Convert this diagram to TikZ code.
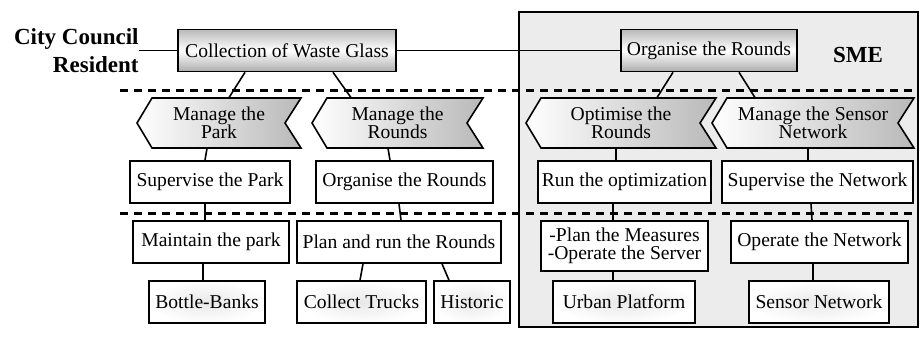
\documentclass[tikz,border=0pt]{standalone}
\usepackage{fontspec}
\setmainfont{Liberation Serif}
\usetikzlibrary{calc}

\tikzset{
  box/.style={draw, line width=0.8pt, fill=white, inner sep=0pt, minimum height=21pt},
  topbox/.style={box, top color=gray!55, bottom color=gray!65, middle color=white},
  resbox/.style={box, inner color=gray!18, outer color=white},
  chev/.style={draw, line width=0.8pt, left color=white, right color=gray!55},
  chevtext/.style={align=center, inner sep=0pt, minimum height=25pt},
  link/.style={line width=0.8pt},
  layer/.style={line width=1.5pt, dash pattern=on 4pt off 3pt},
  actor/.style={font=\fontsize{11.5}{14}\selectfont\bfseries, inner sep=0pt}
}

\begin{document}
\begin{tikzpicture}[x=0.5pt, y=-0.5pt, every node/.style={font=\fontsize{9.8}{9.2}\selectfont}]
\useasboundingbox (0,0) rectangle (920,338);

% SME area
\filldraw[fill=gray!15, line width=0.8pt] (519,12) rectangle (918,327);

% layer separators
\draw[layer] (120,90) -- (918,90);
\draw[layer] (120,213) -- (918,213);

% top level
\node[actor, align=right, anchor=east] (council) at (139,50.5) {City Council\\Resident};
\node[actor] (sme) at (858,55) {SME};
\node[topbox, minimum width=109pt] (cwg) at (287,50.5) {Collection of Waste Glass};
\node[topbox, minimum width=88pt] (orgtop) at (709,50.5) {Organise the Rounds};
\draw[link] (council.east) -- (cwg.west);
\draw[link] (cwg.east) -- (orgtop.west);

% processes
\shadedraw[chev] (137,123) -- ++(15,-25) -- (301,98) -- ++(-16,25) -- ++(16,25) -- (152,148) -- cycle;
\shadedraw[chev] (312,123) -- ++(15,-25) -- (483,98) -- ++(-16,25) -- ++(16,25) -- (327,148) -- cycle;
\shadedraw[chev] (526,123) -- ++(15,-25) -- (716,98) -- ++(-16,25) -- ++(16,25) -- (541,148) -- cycle;
\shadedraw[chev] (712,123) -- ++(15,-25) -- (914,98) -- ++(-16,25) -- ++(16,25) -- (727,148) -- cycle;
\node[chevtext, minimum width=82pt] (park) at (219,123) {Manage the\\Park};
\node[chevtext, minimum width=85.5pt] (rounds) at (397.5,123) {Manage the\\Rounds};
\node[chevtext, minimum width=95pt] (optim) at (621,123) {Optimise the\\Rounds};
\node[chevtext, minimum width=101pt] (sensnet) at (813,123) {Manage the Sensor\\Network};

% activities
\node[box, minimum width=80pt] (suppark) at (210,182) {Supervise the Park};
\node[box, minimum width=88.5pt] (orgrounds) at (404.5,182) {Organise the Rounds};
\node[box, minimum width=86.5pt] (runopt) at (624.5,182) {Run the optimization};
\node[box, minimum width=95.5pt] (supnet) at (817.5,182) {Supervise the Network};

\node[box, minimum width=78pt] (maintain) at (211,242) {Maintain the park};
\node[box, minimum width=102pt] (planrun) at (399,242) {Plan and run the Rounds};
\node[box, minimum width=83.5pt, minimum height=25pt, align=center] (measures) at (624.5,246) {-Plan the Measures\\-Operate the Server};
\node[box, minimum width=88.5pt] (opnet) at (819.5,242) {Operate the Network};

% resources
\node[resbox, minimum width=58pt] (banks) at (207,302) {Bottle-Banks};
\node[resbox, minimum width=64.5pt] (trucks) at (361.5,302) {Collect Trucks};
\node[resbox, minimum width=38pt] (historic) at (472,302) {Historic};
\node[resbox, minimum width=71pt] (platform) at (624,302) {Urban Platform};
\node[resbox, minimum width=70pt] (sensors) at (819,302) {Sensor Network};

% links
\draw[link] ($(cwg.south)+(-42,0)$) -- ($(park.north)+(10,0)$);
\draw[link] ($(cwg.south)+(46,0)$) -- ($(rounds.north)+(-46.5,0)$);
\draw[link] ($(orgtop.south)+(-36,0)$) -- ($(optim.north)+(36,0)$);
\draw[link] ($(orgtop.south)+(30,0)$) -- ($(sensnet.north)+(-58,0)$);
\draw[link] ($(park.south)+(-12,0)$) -- ($(suppark.north)+(-5,0)$);
\draw[link] ($(rounds.south)+(-9.5,0)$) -- ($(orgrounds.north)+(-14.5,0)$);
\draw[link] ($(optim.south)+(-5,0)$) -- ($(runopt.north)+(-8.5,0)$);
\draw[link] ($(sensnet.south)+(-5,0)$) -- ($(supnet.north)+(-9.5,0)$);
\draw[link] ($(suppark.south)+(-5,0)$) -- ($(maintain.north)+(-6,0)$);
\draw[link] ($(orgrounds.south)+(-5.5,0)$) -- ($(planrun.north)+(2,0)$);
\draw[link] ($(runopt.south)+(-11.5,0)$) -- ($(measures.north)+(-11.5,0)$);
\draw[link] ($(supnet.south)+(-6.5,0)$) -- ($(opnet.north)+(-7.5,0)$);
\draw[link] ($(maintain.south)+(-8,0)$) -- ($(banks.north)+(-4,0)$);
\draw[link] ($(planrun.south)+(-36,0)$) -- ($(trucks.north)+(-1.5,0)$);
\draw[link] ($(planrun.south)+(43,0)$) -- ($(historic.north)+(-23,0)$);
\draw[link] ($(measures.south)+(-11.5,0)$) -- ($(platform.north)+(-11,0)$);
\draw[link] ($(opnet.south)+(-6.5,0)$) -- ($(sensors.north)+(-6,0)$);
\end{tikzpicture}
\end{document}
